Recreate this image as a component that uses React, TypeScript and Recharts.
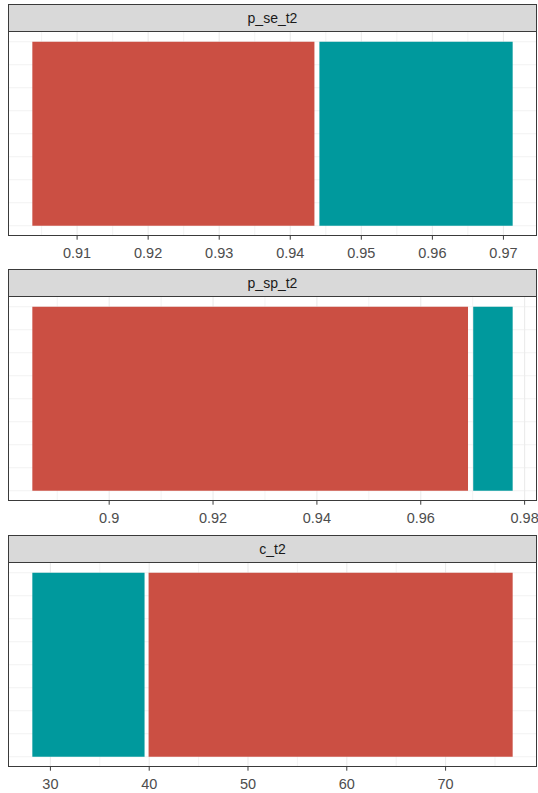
import React from 'react';
import { BarChart, Bar, XAxis, YAxis, CartesianGrid } from 'recharts';

// ---- data ----
const panelNames = ['p_se_t2', 'p_sp_t2', 'c_t2'];
const redLow = [0.9037, 0.8852, 39.94];
const redHigh = [0.9434, 0.9691, 76.79];
const tealLow = [0.9441, 0.9701, 28.17];
const tealHigh = [0.9713, 0.9777, 39.53];
const tickValues = [
  [0.91, 0.92, 0.93, 0.94, 0.95, 0.96, 0.97],
  [0.9, 0.92, 0.94, 0.96, 0.98],
  [30, 40, 50, 60, 70],
];

// ---- style / layout ----
const RED = '#CB4F43';
const TEAL = '#00999D';
const GRID = '#ebebeb';
const BORDER = '#3a3a3a';
const FONT = '"Liberation Sans", Arial, sans-serif';
const W = 538;
const PANEL_LEFT = 8.3;
const PANEL_RIGHT = 536.7;
const STRIP_H = 27.7;
const PLOT_H = 204;
const AXIS_H = 34;
const BAR_SIZE = 184;
const panelTops = [4.3, 269.1, 534.7];

const TickLabel = (props: any) => {
  const { x, y, payload } = props;
  return (
    <text
      x={x}
      y={y}
      dy={10.2}
      textAnchor="middle"
      fill="#4d4d4d"
      style={{ fontSize: '14.5px', fontFamily: FONT }}
    >
      {String(payload.value)}
    </text>
  );
};

function Panel({ idx, top }: { idx: number; top: number }) {
  const lo = Math.min(redLow[idx], tealLow[idx]);
  const hi = Math.max(redHigh[idx], tealHigh[idx]);
  const pad = (hi - lo) * 0.05;
  const d0 = lo - pad;
  const d1 = hi + pad;
  const ticks = tickValues[idx];
  const step = ticks[1] - ticks[0];
  const minor: number[] = [ticks[0] - step / 2];
  for (let i = 0; i < ticks.length - 1; i++) minor.push((ticks[i] + ticks[i + 1]) / 2);
  minor.push(ticks[ticks.length - 1] + step / 2);
  const minorIn = minor.filter((v) => v > d0 && v < d1);

  const data = [
    {
      name: panelNames[idx],
      red: [redLow[idx], redHigh[idx]],
      teal: [tealLow[idx], tealHigh[idx]],
    },
  ];

  const toX = (offset: any, v: number) => offset.left + ((v - d0) / (d1 - d0)) * offset.width;
  const H = STRIP_H + PLOT_H + AXIS_H;

  return (
    <div style={{ position: 'absolute', left: 0, top, width: W, height: H }}>
      <BarChart
        width={W}
        height={H}
        data={data}
        layout="vertical"
        margin={{ top: STRIP_H, right: W - PANEL_RIGHT, bottom: 0, left: PANEL_LEFT }}
        barGap={-BAR_SIZE}
        style={{ fontFamily: FONT }}
      >
        <CartesianGrid
          stroke={GRID}
          strokeWidth={0.6}
          horizontal={true}
          vertical={true}
          verticalCoordinatesGenerator={({ offset }: any) => minorIn.map((v) => toX(offset, v))}
          horizontalCoordinatesGenerator={({ offset }: any) => {
            const t = offset.top + Math.floor((offset.height - BAR_SIZE) / 2);
            return Array.from({ length: 9 }, (_, i) => t + (i * BAR_SIZE) / 8);
          }}
        />
        <CartesianGrid
          stroke={GRID}
          strokeWidth={1.1}
          horizontal={false}
          vertical={true}
          verticalCoordinatesGenerator={({ offset }: any) => ticks.map((v) => toX(offset, v))}
        />
        <XAxis
          type="number"
          domain={[d0, d1]}
          allowDataOverflow
          ticks={ticks}
          interval={0}
          height={AXIS_H}
          axisLine={false}
          tickLine={{ stroke: BORDER, strokeWidth: 1 }}
          tickSize={4}
          tickMargin={8}
          fontSize={14.5}
          tick={<TickLabel />}
        />
        <YAxis type="category" dataKey="name" hide />
        <Bar dataKey="red" fill={RED} barSize={BAR_SIZE} isAnimationActive={false} />
        <Bar dataKey="teal" fill={TEAL} barSize={BAR_SIZE} isAnimationActive={false} />
      </BarChart>
      <div
        style={{
          position: 'absolute',
          left: PANEL_LEFT - 0.5,
          top: 0,
          width: PANEL_RIGHT - PANEL_LEFT + 1,
          height: STRIP_H + PLOT_H + 0.5,
          boxSizing: 'border-box',
          border: `1px solid ${BORDER}`,
          pointerEvents: 'none',
        }}
      >
        <div
          style={{
            height: STRIP_H - 0.5,
            background: '#d9d9d9',
            borderBottom: `1px solid ${BORDER}`,
            boxSizing: 'border-box',
            display: 'flex',
            alignItems: 'center',
            justifyContent: 'center',
            fontFamily: FONT,
            fontSize: 14,
            color: '#1a1a1a',
          }}
        >
          {panelNames[idx]}
        </div>
      </div>
    </div>
  );
}

export default function App() {
  return (
    <div style={{ position: 'absolute', left: 0, top: 0, width: W, height: 793, background: '#fff' }}>
      {panelNames.map((n, i) => (
        <Panel key={n} idx={i} top={panelTops[i]} />
      ))}
    </div>
  );
}
